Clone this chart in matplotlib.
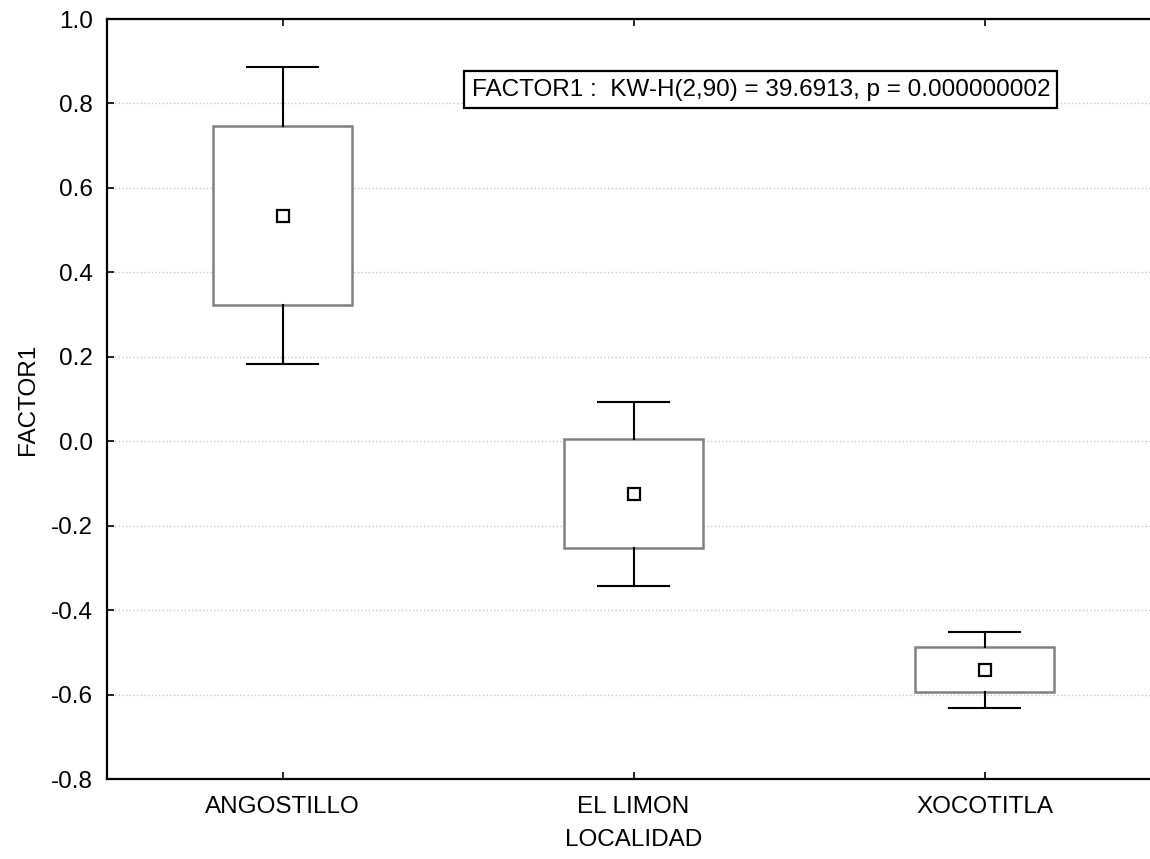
import matplotlib
matplotlib.use('Agg')
import matplotlib.pyplot as plt

plt.rcParams['font.family'] = ['Liberation Sans', 'DejaVu Sans']

localidades = ['ANGOSTILLO', 'EL LIMON', 'XOCOTITLA']
medianas = [0.534, -0.126, -0.542]
q1 = [0.323, -0.254, -0.594]
q3 = [0.747, 0.005, -0.487]
minimos = [0.184, -0.342, -0.632]
maximos = [0.886, 0.092, -0.452]
yticks = [-0.8, -0.6, -0.4, -0.2, 0.0, 0.2, 0.4, 0.6, 0.8, 1.0]

stats = []
for i in range(len(localidades)):
    stats.append({'med': medianas[i], 'q1': q1[i], 'q3': q3[i],
                  'whislo': minimos[i], 'whishi': maximos[i],
                  'label': localidades[i]})

fig = plt.figure(figsize=(11.5, 8.59), dpi=100)
ax = fig.add_axes([107 / 1150, 80 / 859, 1053 / 1150, 760 / 859])

pos = [1, 2, 3]
ax.bxp(stats, positions=pos, widths=0.396, capwidths=0.2, showfliers=False,
       patch_artist=True,
       boxprops=dict(facecolor='white', edgecolor='#808080', linewidth=1.8),
       whiskerprops=dict(color='black', linewidth=1.5),
       capprops=dict(color='black', linewidth=1.5),
       medianprops=dict(visible=False), zorder=3)
ax.plot(pos, medianas, linestyle='none', marker='s', markersize=8,
        markerfacecolor='white', markeredgecolor='black', markeredgewidth=1.6,
        zorder=4)

ax.set_xlim(0.5, 3.5)
ax.set_ylim(-0.8, 1.0)
ax.set_yticks(yticks)
ax.set_yticklabels(['%.1f' % v for v in yticks])
ax.set_xticks(pos)
ax.set_xticklabels(localidades)
ax.tick_params(direction='in', length=5, width=1.2, labelsize=17.5, top=True)
ax.tick_params(axis='x', pad=12)
ax.tick_params(axis='y', pad=10)
ax.grid(axis='y', linestyle=':', color='#c8c8c8', linewidth=1.0, zorder=0)
ax.set_axisbelow(True)
for s in ax.spines.values():
    s.set_linewidth(1.6)

ax.set_xlabel('LOCALIDAD', fontsize=17.5, labelpad=8)
ax.set_ylabel('FACTOR1', fontsize=17.5, labelpad=9)

ax.text(0.621, 0.907, 'FACTOR1 :  KW-H(2,90) = 39.6913, p = 0.000000002',
        transform=ax.transAxes, ha='center', va='center', fontsize=17.5,
        bbox=dict(boxstyle='square,pad=0.3', facecolor='white',
                  edgecolor='black', linewidth=1.6), zorder=5)

fig.savefig('out.png', dpi=100)
